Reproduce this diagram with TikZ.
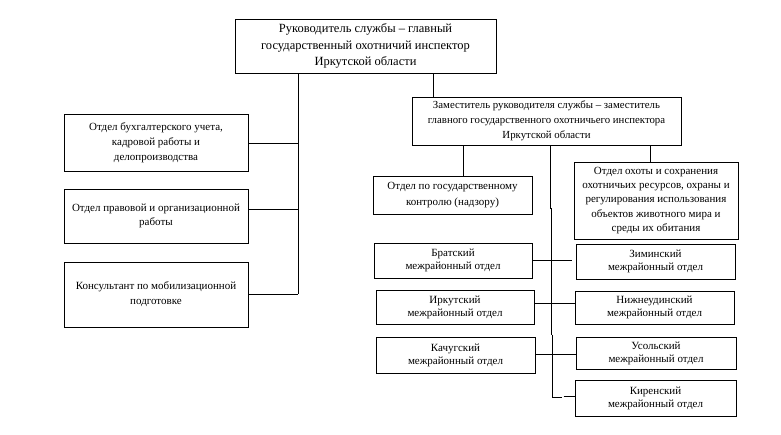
\documentclass[tikz,border=0pt]{standalone}
\usepackage{fontspec}
\setmainfont{Liberation Serif}
\begin{document}
\begin{tikzpicture}[x=1pt,y=-1pt,
  box/.style={draw, line width=0.8pt, inner sep=0pt, align=center, font=\fontsize{11}{14.8}\selectfont},
  bigtxt/.style={font=\fontsize{12.5}{16.5}\selectfont},
  smalltxt/.style={font=\fontsize{11}{13}\selectfont},
  conn/.style={line width=0.8pt}]
\useasboundingbox (0,0) rectangle (781,434);
% nodes
\node[box, bigtxt, minimum width=261pt, minimum height=54pt] (top) at (365.5,46)
  {Руководитель службы – главный\\государственный охотничий инспектор\\Иркутской области};
\node[box, font=\fontsize{10.8}{15.2}\selectfont, minimum width=269pt, minimum height=48pt] (dep) at (546.5,121)
  {Заместитель руководителя службы – заместитель\\главного государственного охотничьего инспектора\\Иркутской области};
\node[box, minimum width=184pt, minimum height=57pt] (acc) at (156,142.5)
  {Отдел бухгалтерского учета,\\кадровой работы и\\делопроизводства};
\node[box, minimum width=184pt, minimum height=54pt] (legal) at (156,216)
  {Отдел правовой и организационной\\работы};
\node[box, minimum width=184pt, minimum height=65pt] (mob) at (156,294.5)
  {Консультант по мобилизационной\\подготовке};
\node[box, font=\fontsize{11}{15.7}\selectfont, minimum width=159pt, minimum height=38pt] (ctrl) at (452.5,195)
  {Отдел по государственному\\контролю (надзору)};
\node[box, font=\fontsize{11}{14.3}\selectfont, minimum width=164pt, minimum height=77pt] (hunt) at (656,200.5)
  {Отдел охоты и сохранения\\охотничьих ресурсов, охраны и\\регулирования использования\\объектов животного мира и\\среды их обитания};
\node[box, smalltxt, minimum width=158pt, minimum height=35pt] (brat) at (453,260.5) {Братский\\межрайонный отдел};
\node[box, smalltxt, minimum width=158pt, minimum height=34pt] (irk) at (455,307) {Иркутский\\межрайонный отдел};
\node[box, smalltxt, minimum width=159pt, minimum height=36pt] (kach) at (455.5,355) {Качугский\\межрайонный отдел};
\node[box, smalltxt, minimum width=159pt, minimum height=35pt] (zim) at (655.5,261.5) {Зиминский\\межрайонный отдел};
\node[box, smalltxt, minimum width=159pt, minimum height=33pt] (nizh) at (654.5,307.5) {Нижнеудинский\\межрайонный отдел};
\node[box, smalltxt, minimum width=160pt, minimum height=32pt] (usol) at (656,353) {Усольский\\межрайонный отдел};
\node[box, smalltxt, minimum width=161pt, minimum height=36pt] (kir) at (655.5,398) {Киренский\\межрайонный отдел};
% coordinates
\coordinate (tL) at (298.3,294.3);
\coordinate (tD) at (433.3,0);
\coordinate (dC) at (463.3,0);
\coordinate (dH) at (650.7,0);
\coordinate (j1) at (550.7,209);
\coordinate (j2) at (551.7,208);
\coordinate (j3) at (551.7,335);
\coordinate (j4) at (552.3,334.5);
\coordinate (j5) at (552.3,397.3);
\coordinate (j6) at (562.3,397.3);
\coordinate (k1) at (563.5,396.5);
\coordinate (zstub) at (571.7,260.3);
% connectors
\draw[conn] (top.south -| tL) -- (tL);
\draw[conn] (acc.east |- 0,143.3) -- (tL |- 0,143.3);
\draw[conn] (legal.east |- 0,209.3) -- (tL |- 0,209.3);
\draw[conn] (mob.east |- tL) -- (tL);
\draw[conn] (top.south -| tD) -- (dep.north -| tD);
\draw[conn] (dep.south -| dC) -- (ctrl.north -| dC);
\draw[conn] (dep.south -| dH) -- (hunt.north -| dH);
\draw[conn] (dep.south -| j1) -- (j1);
\draw[conn] (j2) -- (j3);
\draw[conn] (j4) -- (j5) -- (j6);
\draw[conn] (k1) -- (kir.west |- k1);
\draw[conn] (brat.east |- zstub) -- (zstub);
\draw[conn] (irk.east |- 0,303.3) -- (nizh.west |- 0,303.3);
\draw[conn] (kach.east |- 0,354.3) -- (usol.west |- 0,354.3);
\end{tikzpicture}
\end{document}
